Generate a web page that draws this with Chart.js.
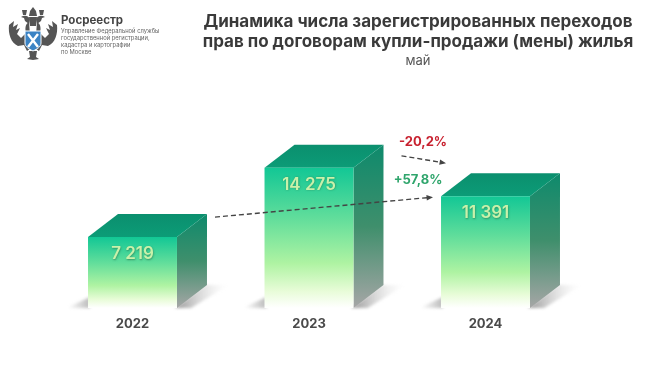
<!DOCTYPE html>
<html lang="ru"><head><meta charset="utf-8">
<script src="https://cdn.jsdelivr.net/npm/chart.js@4"></script>
<style>
html,body{margin:0;padding:0;background:#fff;width:650px;height:366px;overflow:hidden}
#wrap{position:relative;width:650px;height:366px;font-family:Inter,Roboto,sans-serif}
canvas{position:absolute;left:0;top:0}
.t{position:absolute;white-space:nowrap}
#title{left:168px;width:500px;top:11px;text-align:center;font-weight:700;font-size:17px;line-height:20px;color:#3a3a3a}
#sub{left:168px;width:500px;top:52px;text-align:center;font-size:13px;color:#555}
#org{left:61px;top:13px;font-weight:700;font-size:11.5px;color:#444}
#orgs{left:61px;top:28px;font-size:5.8px;line-height:6.9px;color:#666}
svg{position:absolute;left:8px;top:7px}
</style></head><body>
<div id="wrap">
<canvas id="c" width="650" height="366"></canvas>
<svg width="50" height="54" viewBox="0 0 50 54">
 <g fill="#555">
  <path d="M21 15 C17 17 17 22 18 26 L13 31 L9 27 L12 21 L8 23 L10 17 L5 20 L6 14 L1 18 C0 27 3 36 10 39 L16 38 L19 44 L23 41Z"/>
  <path d="M29 15 C33 17 33 22 32 26 L37 31 L41 27 L38 21 L42 23 L40 17 L45 20 L44 14 L49 18 C50 27 47 36 40 39 L34 38 L31 44 L27 41Z"/>
  <path d="M22 12 C20 8 16 8 13 10 L16 11 L17 14 L21 17Z"/>
  <path d="M28 12 C30 8 34 8 37 10 L34 11 L33 14 L29 17Z"/>
  <path d="M22 4 L25 0 L28 4 L29 9 L21 9Z"/>
  <path d="M14 3 L19 3 L18 8 L15 8Z"/><path d="M31 3 L36 3 L35 8 L32 8Z"/>
  <path d="M21 10 L29 10 L28 19 L22 19Z"/>
  <path d="M21 44 L29 44 L28 50 L31 52 L25 53 L19 52 L22 50Z"/>
 </g>
 <path d="M17 24 L33 24 L33 36 C33 40 29 42 25 44 C21 42 17 40 17 36Z" fill="#3b83c4" stroke="#fff" stroke-width="1"/>
 <path d="M20 27 L30 40 M30 27 L20 40" stroke="#fff" stroke-width="2.4" fill="none"/>
</svg>
<div class="t" id="org">Росреестр</div>
<div class="t" id="orgs">Управление Федеральной службы<br>государственной регистрации,<br>кадастра и картографии<br>по Москве</div>
<div class="t" id="title">Динамика числа зарегистрированных переходов<br>прав по договорам купли-продажи (мены) жилья</div>
<div class="t" id="sub">май</div>
</div>
<script>
const categories = ['2022', '2023', '2024'];
const values = [7219, 14275, 11391];
const valueLabels = ['7 219', '14 275', '11 391'];
const changeYoY = '-20,2%';
const changeTwoYear = '+57,8%';

const DX = 30, DY = 23;

function frontGradient(c, top, bottom) {
  const g = c.createLinearGradient(0, top, 0, bottom);
  g.addColorStop(0, '#12c795');
  g.addColorStop(0.35, '#5fdd9b');
  g.addColorStop(0.68, '#aef3a2');
  g.addColorStop(0.88, '#e8fcd8');
  g.addColorStop(1, '#ffffff');
  return g;
}

function arrow(c, x1, y1, x2, y2) {
  c.save();
  c.strokeStyle = '#444';
  c.fillStyle = '#444';
  c.lineWidth = 1.4;
  c.setLineDash([5, 3]);
  const a = Math.atan2(y2 - y1, x2 - x1);
  c.beginPath();
  c.moveTo(x1, y1);
  c.lineTo(x2 - 5 * Math.cos(a), y2 - 5 * Math.sin(a));
  c.stroke();
  c.setLineDash([]);
  c.beginPath();
  c.moveTo(x2, y2);
  c.lineTo(x2 - 7 * Math.cos(a - 0.4), y2 - 7 * Math.sin(a - 0.4));
  c.lineTo(x2 - 7 * Math.cos(a + 0.4), y2 - 7 * Math.sin(a + 0.4));
  c.closePath();
  c.fill();
  c.restore();
}

const cube = {
  id: 'cube',
  beforeDatasetsDraw(chart) {
    const c = chart.ctx;
    chart.getDatasetMeta(0).data.forEach(b => {
      const l = b.x - b.width / 2, r = b.x + b.width / 2, top = b.y, bot = b.base;
      c.save();
      c.save();
      c.filter = 'blur(1.5px)';
      let g = c.createLinearGradient(l - 20, 0, l, 0);
      g.addColorStop(0, 'rgba(150,150,150,0)');
      g.addColorStop(1, 'rgba(150,150,150,0.6)');
      c.fillStyle = g;
      c.beginPath();
      c.moveTo(l + 2, bot - 11); c.lineTo(l + 2, bot); c.lineTo(l - 22, bot); c.closePath();
      c.fill();
      g = c.createLinearGradient(r, 0, r + DX + 22, 0);
      g.addColorStop(0, 'rgba(130,130,130,0.8)');
      g.addColorStop(0.55, 'rgba(190,190,190,0.4)');
      g.addColorStop(1, 'rgba(235,235,235,0)');
      c.fillStyle = g;
      c.beginPath();
      c.moveTo(r - 2, bot); c.lineTo(r + DX - 2, bot - DY); c.lineTo(r + DX + 22, bot - DY);
      c.lineTo(r + 14, bot); c.closePath();
      c.fill();
      c.restore();
      g = c.createLinearGradient(0, top - DY, 0, bot);
      g.addColorStop(0, '#0e8a6c');
      g.addColorStop(0.5, '#3f8f6c');
      g.addColorStop(1, '#a6a6a6');
      c.fillStyle = g;
      c.beginPath();
      c.moveTo(r, top); c.lineTo(r + DX, top - DY); c.lineTo(r + DX, bot - DY); c.lineTo(r, bot); c.closePath();
      c.fill();
      g = c.createLinearGradient(0, top - DY, 0, top);
      g.addColorStop(0, '#0b8f6e');
      g.addColorStop(1, '#0c9c77');
      c.fillStyle = g;
      c.beginPath();
      c.moveTo(l, top); c.lineTo(l + DX, top - DY); c.lineTo(r + DX, top - DY); c.lineTo(r, top); c.closePath();
      c.fill();
      c.restore();
    });
  },
  afterDatasetsDraw(chart) {
    const c = chart.ctx, bars = chart.getDatasetMeta(0).data;
    c.save();
    c.textAlign = 'center';
    c.textBaseline = 'middle';
    c.font = '600 17px Inter, Roboto, sans-serif';
    bars.forEach((b, i) => {
      c.shadowColor = 'rgba(40,120,80,0.7)';
      c.shadowBlur = 2;
      c.shadowOffsetX = 0.5;
      c.shadowOffsetY = 0.5;
      c.fillStyle = '#c9f1aa';
      c.fillText(valueLabels[i], b.x, b.y + 17);
    });
    c.restore();

    const [b0, b1, b2] = bars;
    const r0 = b0.x + b0.width / 2, r1 = b1.x + b1.width / 2, l2 = b2.x - b2.width / 2;
    arrow(c, r0 + 38, b0.y - 20, l2 - 8, b2.y + 1);
    arrow(c, r1 + 48, b1.y - 12, l2 + 5, b2.y - 33);

    c.save();
    c.textAlign = 'center';
    c.textBaseline = 'middle';
    c.font = '700 13px Inter, Roboto, sans-serif';
    c.fillStyle = '#c8212f';
    c.fillText(changeYoY, l2 - 18, b2.y - 54);
    c.fillStyle = '#2fa56c';
    c.fillText(changeTwoYear, l2 - 23, b2.y - 16);
    c.restore();
  }
};

new Chart(document.getElementById('c'), {
  type: 'bar',
  data: {
    labels: categories,
    datasets: [{
      data: values,
      barPercentage: 0.504,
      categoryPercentage: 1,
      borderWidth: 0,
      backgroundColor(ctx) {
        const ch = ctx.chart, y = ch.scales.y;
        if (!ch.chartArea || !y) return '#5fdd9b';
        return frontGradient(ch.ctx, y.getPixelForValue(ctx.raw), y.getPixelForValue(0));
      }
    }]
  },
  plugins: [cube],
  options: {
    responsive: false,
    animation: false,
    layout: { padding: { left: 44.25, right: 76.25, top: 111.6, bottom: 26.4 } },
    plugins: { legend: { display: false }, title: { display: false }, tooltip: { enabled: false } },
    scales: {
      x: {
        grid: { display: false, drawTicks: false },
        border: { display: false },
        ticks: { padding: 8, color: '#4a4a4a', font: { family: 'Inter, Roboto, sans-serif', size: 13, weight: '700' } }
      },
      y: { display: false, min: 0, max: 20000 }
    }
  }
});
</script>
</body></html>
